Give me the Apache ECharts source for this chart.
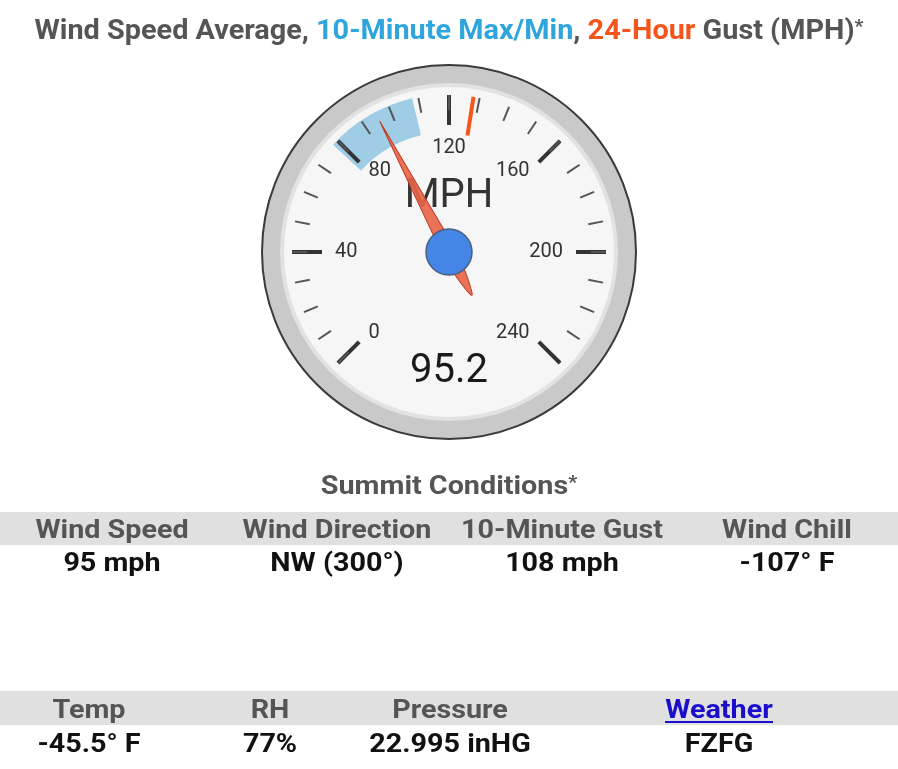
<!DOCTYPE html>
<html>
<head>
<meta charset="utf-8">
<script src="https://cdn.jsdelivr.net/npm/echarts@6/dist/echarts.min.js"></script>
<style>
html,body{margin:0;padding:0;background:#fff;}
#chart{width:898px;height:769px;}
</style>
</head>
<body>
<div id="chart"></div>
<script>
// ---- data ----
const tickLabels = [0, 40, 80, 120, 160, 200, 240];
const windAverage = 95.2;
const tenMinuteRange = [78, 108];
const gust24Hour = 128;
const unitLabel = 'MPH';
const summitHeaders1 = ['Wind Speed', 'Wind Direction', '10-Minute Gust', 'Wind Chill'];
const summitValues1 = ['95 mph', 'NW (300°)', '108 mph', '-107° F'];
const summitHeaders2 = ['Temp', 'RH', 'Pressure', 'Weather'];
const summitValues2 = ['-45.5° F', '77%', '22.995 inHG', 'FZFG'];

// ---- layout ----
const CX = 449, CY = 252;
const FONT = 'Roboto, "Noto Sans", sans-serif';
const SX = 1.105;
const gMin = tickLabels[0], gMax = tickLabels[tickLabels.length - 1];
const common = {
  type: 'gauge', center: [CX, CY], startAngle: 225, endAngle: -45,
  min: gMin, max: gMax, splitNumber: tickLabels.length - 1,
  animation: false
};
const hidden = {
  axisLine: { show: false, lineStyle: { width: 0 } },
  splitLine: { show: false }, axisTick: { show: false }, axisLabel: { show: false },
  pointer: { show: false }, anchor: { show: false },
  title: { show: false }, detail: { show: false }
};

const chart = echarts.init(document.getElementById('chart'), null, { renderer: 'canvas' });

const cols1 = [112, 337, 562, 787];
const cols2 = [89, 270, 450, 719];
const bold = (s) => 'bold ' + s + 'px ' + FONT;
const graphics = [
  { type: 'circle', shape: { cx: CX, cy: CY, r: 187 }, style: { fill: '#c9c9c9', stroke: '#3a3a3a', lineWidth: 2 }, z: -10 },
  { type: 'circle', shape: { cx: CX, cy: CY, r: 169 }, style: { fill: '#e2e2e2' }, z: -10 },
  { type: 'circle', shape: { cx: CX, cy: CY, r: 165 }, style: { fill: '#f6f6f6' }, z: -10 },
  { type: 'rect', shape: { x: 0, y: 512, width: 898, height: 33 }, style: { fill: '#e0e0e0' }, z: -10 },
  { type: 'rect', shape: { x: 0, y: 691, width: 898, height: 34 }, style: { fill: '#e0e0e0' }, z: -10 },
  { type: 'text', x: 449, y: 31.5, scaleX: 1.03, style: {
      text: '{g|Wind Speed Average, }{b|10-Minute Max/Min}{g|, }{o|24-Hour}{g| Gust (MPH)}{s|*}',
      align: 'center', verticalAlign: 'middle', font: bold(28),
      rich: {
        g: { fill: '#555', font: bold(28) },
        b: { fill: '#2fa5de', font: bold(28) },
        o: { fill: '#f2561d', font: bold(28) },
        s: { fill: '#555', font: bold(19), verticalAlign: 'top' }
      } } },
  { type: 'text', x: 449, y: 487, scaleX: SX, style: { text: '{t|Summit Conditions}{s|*}', align: 'center', verticalAlign: 'middle', font: bold(26),
      rich: { t: { fill: '#555', font: bold(26) }, s: { fill: '#555', font: bold(18), verticalAlign: 'top' } } } }
];
summitHeaders1.forEach((h, i) => graphics.push({ type: 'text', x: cols1[i], y: 531, scaleX: SX, style: { text: h, align: 'center', verticalAlign: 'middle', fill: '#555', font: bold(26) } }));
summitValues1.forEach((h, i) => graphics.push({ type: 'text', x: cols1[i], y: 564.5, scaleX: SX, style: { text: h, align: 'center', verticalAlign: 'middle', fill: '#111', font: bold(26) } }));
summitHeaders2.forEach((h, i) => graphics.push({ type: 'text', x: cols2[i], y: 711, scaleX: SX, style: { text: h, align: 'center', verticalAlign: 'middle', fill: i === 3 ? '#1a0dcc' : '#555', font: bold(26) } }));
summitValues2.forEach((h, i) => graphics.push({ type: 'text', x: cols2[i], y: 745, scaleX: SX, style: { text: h, align: 'center', verticalAlign: 'middle', fill: '#111', font: bold(26) } }));
// underline for link header
graphics.push({ type: 'rect', shape: { x: 665, y: 721, width: 108, height: 2 }, style: { fill: '#1a0dcc' } });

const option = {
  backgroundColor: '#fff',
  graphic: graphics,
  series: [
    // 10-minute max/min band
    Object.assign({}, common, hidden, {
      radius: 158,
      axisLine: { show: true, lineStyle: { width: 38, color: [
        [(tenMinuteRange[0] - gMin) / (gMax - gMin), 'rgba(0,0,0,0)'],
        [(tenMinuteRange[1] - gMin) / (gMax - gMin), '#9fcde6'],
        [1, 'rgba(0,0,0,0)']
      ] } },
      data: [{ value: tenMinuteRange[1] }]
    }),
    // ticks, labels, unit title
    Object.assign({}, common, hidden, {
      radius: 157,
      splitLine: { show: true, length: 30, distance: 0, lineStyle: { width: 4, color: '#333' } },
      axisTick: { show: true, splitNumber: 4, length: 15, distance: 0, lineStyle: { width: 2, color: '#555' } },
      axisLabel: { show: true, distance: 13, fontSize: 20, color: '#333', fontFamily: FONT },
      title: { show: true, offsetCenter: [0, -55], fontSize: 40, color: '#333', fontFamily: FONT },
      data: [{ value: windAverage, name: unitLabel }]
    }),
    // 24-hour gust marker
    Object.assign({}, common, hidden, {
      radius: 157,
      pointer: { show: true, icon: 'rect', length: 39, width: 4, offsetCenter: [0, -118], itemStyle: { color: '#f2561d' } },
      data: [{ value: gust24Hour }]
    }),
    // average needle
    Object.assign({}, common, hidden, {
      radius: 157,
      pointer: {
        show: true,
        icon: 'path://M6.5,0 L13,148 C13,165 9.5,188 7.6,195 C7,197.5 6,197.5 5.4,195 C3.5,188 0,165 0,148 Z',
        length: 197, width: 14, offsetCenter: [0, 49],
        itemStyle: { color: 'rgba(232,100,72,0.9)', borderColor: '#c0391d', borderWidth: 1 }
      },
      anchor: { show: true, showAbove: true, size: 46, itemStyle: { color: '#4585e6', borderColor: '#4a6080', borderWidth: 1.5 } },
      detail: { show: true, offsetCenter: [0, 120], fontSize: 40, color: '#1a1a1a', fontFamily: FONT, fontWeight: 'normal', formatter: '{value}' },
      data: [{ value: windAverage }]
    })
  ]
};
chart.setOption(option);
</script>
</body>
</html>
